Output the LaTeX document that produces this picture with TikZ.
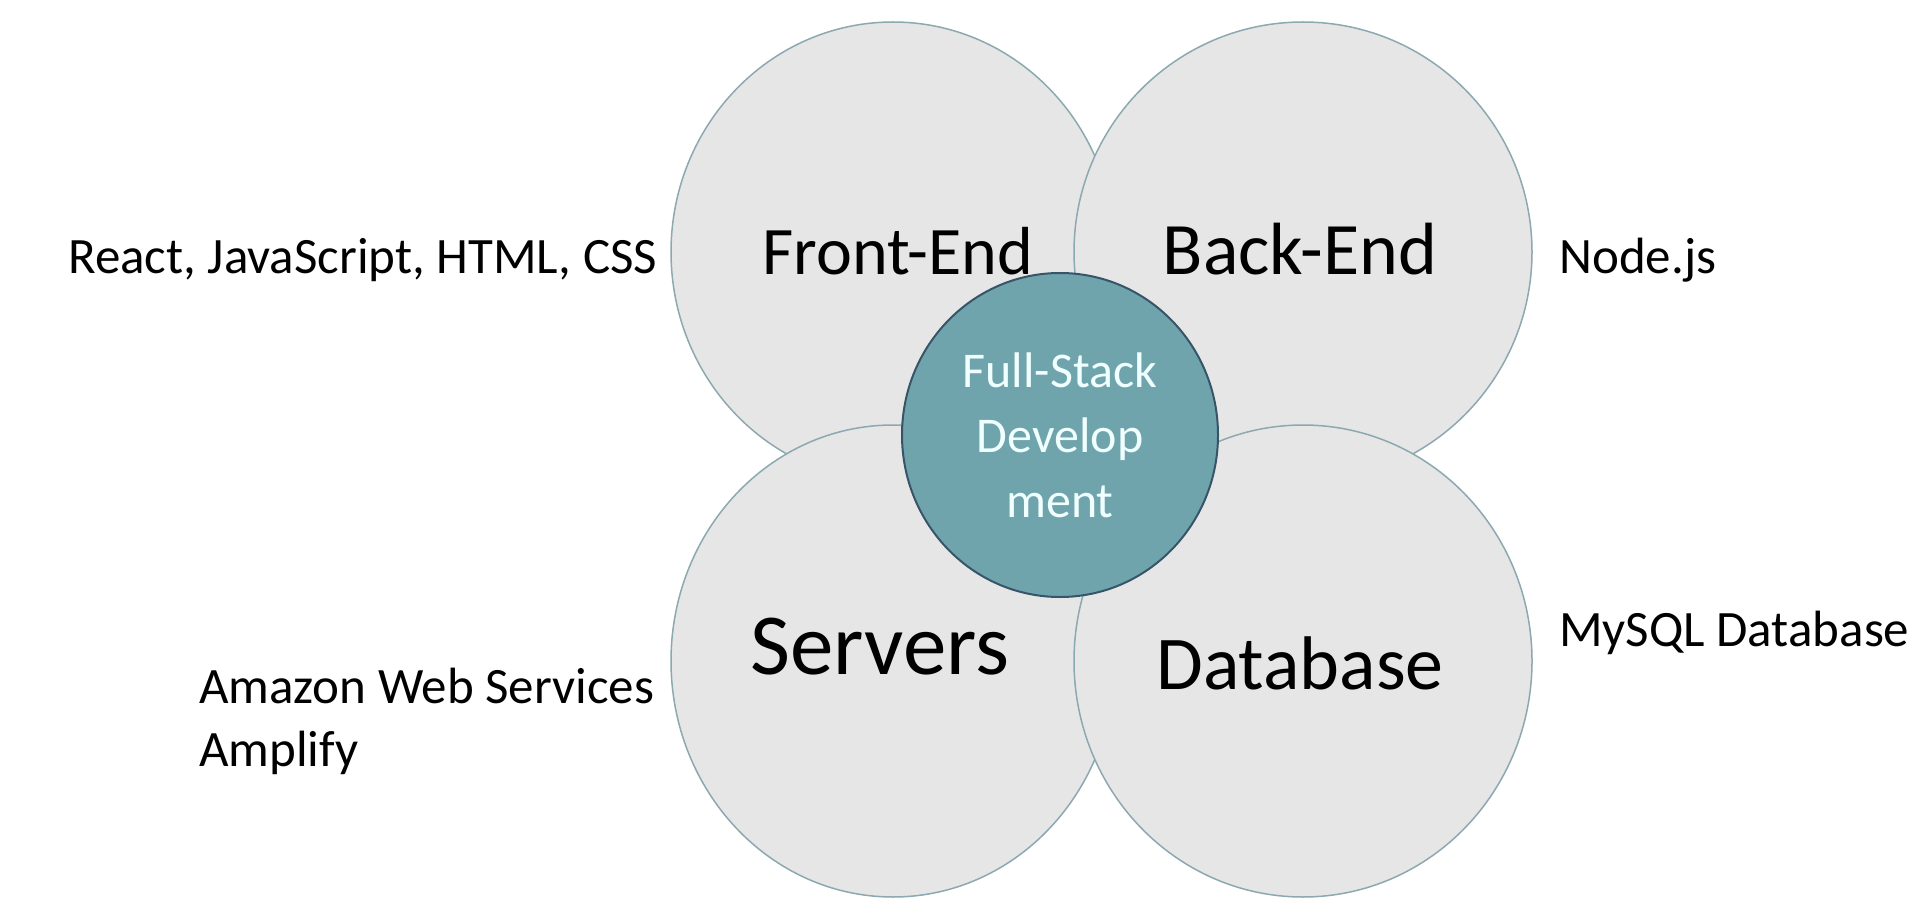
\documentclass[tikz,border=0pt]{standalone}
\usepackage{fontspec}
\setmainfont{Carlito}
\usetikzlibrary{shapes.geometric}

\definecolor{petalfill}{RGB}{231,230,231}
\definecolor{petaldraw}{RGB}{140,168,176}
\definecolor{hubfill}{RGB}{111,164,172}
\definecolor{hubdraw}{RGB}{55,85,105}
\definecolor{hubtext}{RGB}{240,255,255}

\tikzset{
  petal/.style={ellipse, draw=petaldraw, fill=petalfill, line width=1.5pt, inner sep=0pt},
  hub/.style={ellipse, draw=hubdraw, fill=hubfill, line width=2pt, inner sep=0pt,
    minimum width=316pt, minimum height=324pt, text=hubtext, align=center,
    font=\fontsize{50}{65}\selectfont},
  area/.style={anchor=base, inner sep=0pt, font=\fontsize{#1}{#1}\selectfont},
  tech/.style={anchor=base west, inner sep=0pt, font=\fontsize{51}{63}\selectfont}
}

\begin{document}
\begin{tikzpicture}[x=1pt,y=-1pt]
  \useasboundingbox (0,0) rectangle (1929,901);
  \node[petal, minimum width=444pt, minimum height=460pt] (fe) at (893,252) {};
  \node[petal, minimum width=458pt, minimum height=460pt] (be) at (1303,252) {};
  \node[petal, minimum width=444pt, minimum height=472pt] (srv) at (893,661) {};
  \node[petal, minimum width=458pt, minimum height=472pt] (db) at (1303,661) {};
  \node[hub] (fs) at (1060,435) {Full-Stack\\Develop\\ment};

  \node[area=68] (fe-t) at (898,274) {Front-End};
  \node[area=74] (be-t) at (1300,274) {Back-End};
  \node[area=87] (srv-t) at (880,674) {Servers};
  \node[area=76] (db-t) at (1300,689) {Database};

  \node[tech] (fe-x) at (68,273) {React, JavaScript, HTML, CSS};
  \node[tech] (be-x) at (1559,273) {Node.js};
  \node[tech] (db-x) at (1559,646) {MySQL Database};
  \node[tech, anchor=west, align=left] (srv-x) at (199,721) {Amazon Web Services\\Amplify};
\end{tikzpicture}
\end{document}
